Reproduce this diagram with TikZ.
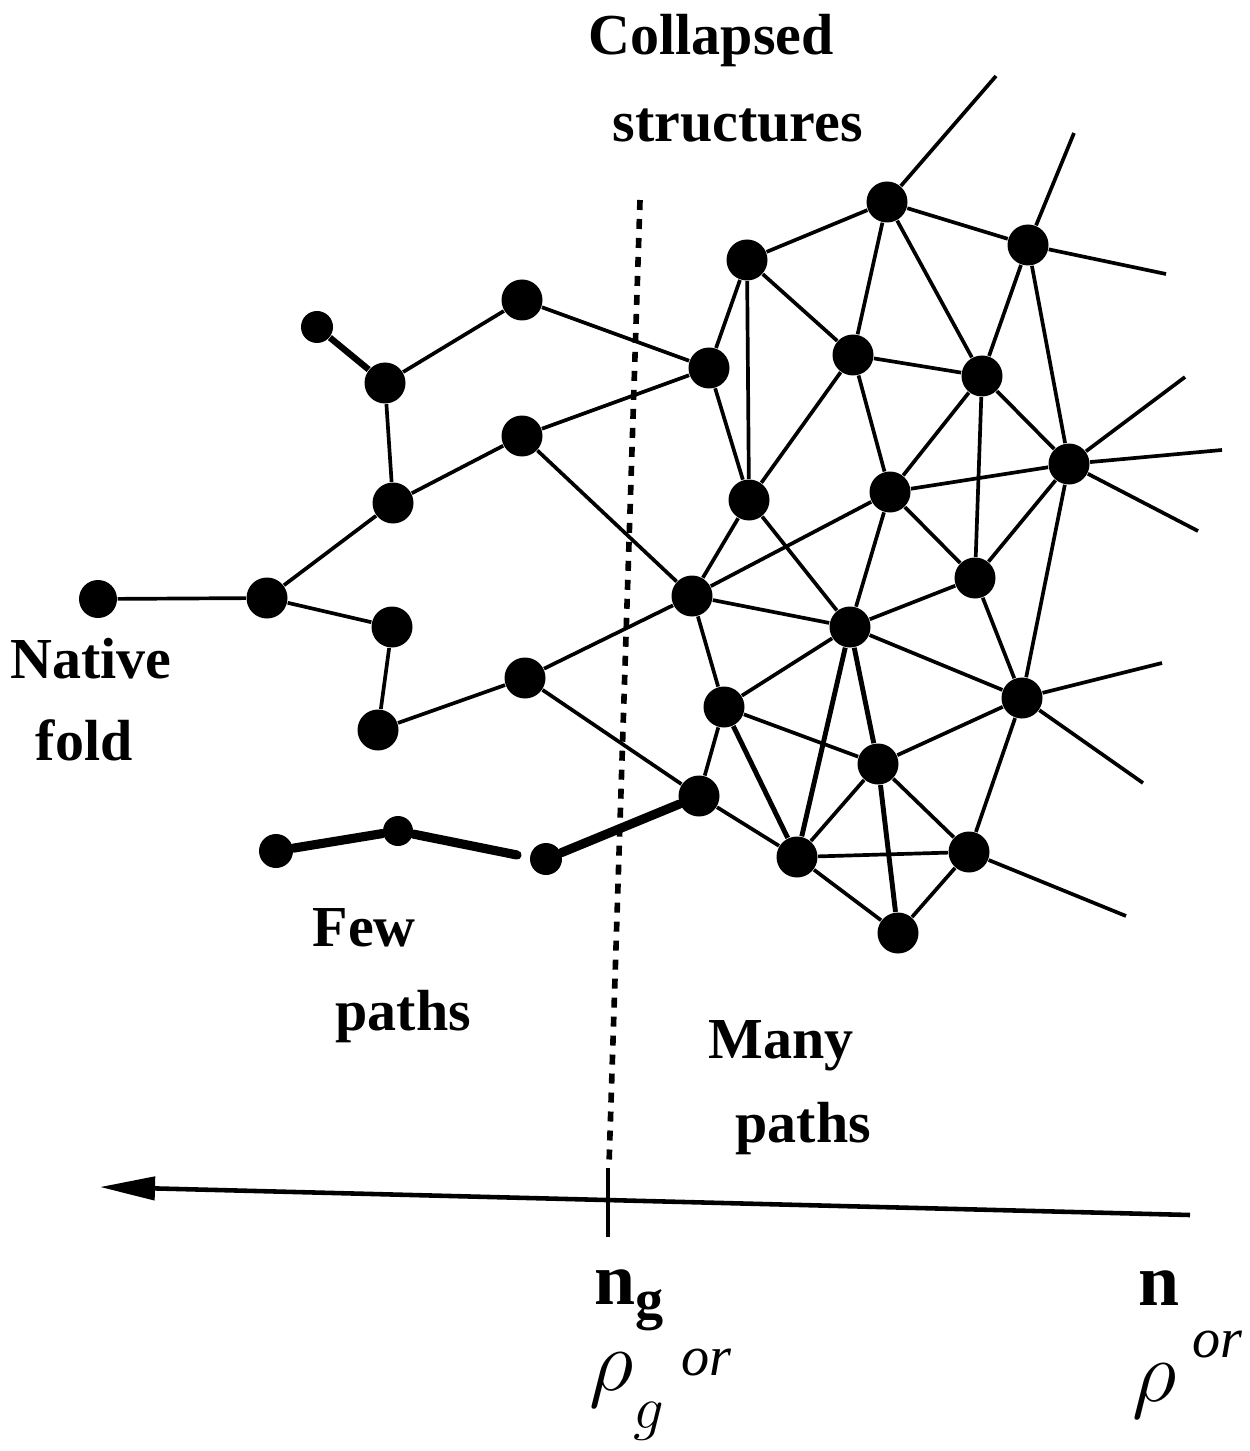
\documentclass[tikz,border=0pt]{standalone}
\usepackage{fontspec}
\setmainfont{Liberation Serif}
\usetikzlibrary{arrows.meta,positioning}

\begin{document}
\begin{tikzpicture}[
  x=0.1mm, y=-0.1mm,
  bead/.style={circle,fill=black,inner sep=0pt,minimum size=4.1mm},
  smallbead/.style={bead,minimum size=3.2mm},
  link/.style={line width=1.05pt},
  stiff/.style={line width=2.6pt,line cap=round},
  cut/.style={line width=1.6pt,dash pattern=on 1mm off 0.9mm},
  word/.style={inner sep=0pt,anchor=base west,font=\bfseries\fontsize{16.5}{20}\selectfont},
  axislabel/.style={inner sep=0pt,anchor=base west,font=\bfseries\fontsize{21}{25}\selectfont},
  hand/.style={inner sep=0pt,anchor=base west,font=\fontsize{24}{28}\selectfont},
  handsup/.style={inner sep=0pt,anchor=base west,font=\itshape\fontsize{16}{18}\selectfont}
]
  \useasboundingbox (0,0) rectangle (1250,1451);

  \node[smallbead] (tip) at (317,327) {};
  \node[bead] (a2) at (385,383) {};
  \node[bead] (a3) at (522,300) {};
  \node[bead] (a4) at (393,503) {};
  \node[bead] (a5) at (522,436) {};
  \node[bead] (a6) at (267,598) {};
  \node[bead,minimum size=3.8mm] (nat) at (98,599) {};
  \node[bead] (a8) at (392,627) {};
  \node[bead] (a9) at (378,730) {};
  \node[bead] (a10) at (525,678) {};
  \node[bead,minimum size=3.4mm] (t1) at (276,851) {};
  \node[smallbead,minimum size=3mm] (t2) at (398,831) {};
  \coordinate (t3) at (517,855);
  \node[smallbead] (t4) at (546,859) {};

  \node[bead] (b1) at (709,368) {};
  \node[bead] (r1) at (887,202) {};
  \node[bead] (r2) at (747,260) {};
  \node[bead] (r3) at (1028,245) {};
  \node[bead] (r4) at (853,355) {};
  \node[bead] (r5) at (982,376) {};
  \node[bead] (r6) at (1069,464) {};
  \node[bead] (r7) at (749,500) {};
  \node[bead] (r8) at (890,492) {};
  \node[bead] (c1) at (692,596) {};
  \node[bead] (r9) at (975,578) {};
  \node[bead] (r10) at (850,627) {};
  \node[bead] (r11) at (1022,698) {};
  \node[bead] (r12) at (724,707) {};
  \node[bead] (r13) at (878,764) {};
  \node[bead] (c2) at (699,796) {};
  \node[bead] (r14) at (797,857) {};
  \node[bead] (r15) at (969,852) {};
  \node[bead] (r16) at (898,933) {};

  \coordinate (e1) at (996,76);
  \coordinate (e2) at (1074,133);
  \coordinate (e3) at (1166,274);
  \coordinate (e4) at (1185,377);
  \coordinate (e5) at (1222,450);
  \coordinate (e6) at (1198,531);
  \coordinate (e7) at (1162,663);
  \coordinate (e8) at (1143,783);
  \coordinate (e9) at (1126,916);

  \draw[line width=1.8pt] (tip) -- (a2);
  \draw[link] (a2) -- (a3) (a3) -- (b1) (a2) -- (a4) (a4) -- (a5) (a5) -- (b1)
    (a5) -- (c1) (a4) -- (a6) (a6) -- (nat) (a6) -- (a8) (a8) -- (a9)
    (a9) -- (a10) (a10) -- (c1) (a10) -- (c2);
  \draw[stiff] (t1) -- (t2) -- (t3);
  \draw[stiff] (t4) -- (c2);

  \draw[link] (r1) -- (r2) (r1) -- (r3) (r1) -- (r4) (r1) -- (r5) (r1) -- (e1)
    (r3) -- (e2) (r3) -- (e3) (r3) -- (r5) (r3) -- (r6)
    (r2) -- (b1) (r2) -- (r7) (r2) -- (r4) (b1) -- (r7)
    (r4) -- (r5) (r4) -- (r7) (r4) -- (r8)
    (r5) -- (r8) (r5) -- (r9) (r5) -- (r6)
    (r6) -- (e4) (r6) -- (e5) (r6) -- (e6) (r6) -- (r8) (r6) -- (r9) (r6) -- (r11)
    (r7) -- (c1) (r7) -- (r10) (r8) -- (c1) (r8) -- (r10) (r8) -- (r9)
    (c1) -- (r10) (c1) -- (r12) (r9) -- (r10) (r9) -- (r11)
    (r10) -- (r12) (r10) -- (r11)
    (r11) -- (r13) (r11) -- (r15) (r11) -- (e7) (r11) -- (e8)
    (r12) -- (r13) (r12) -- (c2) (c2) -- (r14)
    (r13) -- (r14) (r13) -- (r15) (r14) -- (r15) (r14) -- (r16)
    (r15) -- (r16) (r15) -- (e9);
  \draw[line width=1.4pt] (r10) -- (r14) (r10) -- (r13) (r12) -- (r14) (r13) -- (r16);

  \coordinate (cutT) at (640,200);
  \coordinate (cutB) at (609,1165);
  \draw[cut] (cutT) -- (cutB);

  \coordinate (axR) at (1190,1215);
  \coordinate (axL) at (100,1187);
  \coordinate (tickT) at (608,1168);
  \coordinate (tickB) at (608,1237);
  \draw[line width=1.3pt,-{Triangle[length=5.5mm,width=2.3mm]}] (axR) -- (axL);
  \draw[line width=1pt] (tickT) -- (tickB);

  \node[word] (coll) at (588,55) {Collapsed};
  \node[word] (struct) at (612,142) {structures};
  \node[word] (native) at (10,678) {Native};
  \node[word] (fold) at (35,760) {fold};
  \node[word] (few) at (312,946) {Few};
  \node[word] (fewpaths) at (335,1030) {paths};
  \node[word] (many) at (708,1058) {Many};
  \node[word] (manypaths) at (735,1142) {paths};

  \node[axislabel] (ng) at (594,1304) {n\raisebox{-4pt}{\fontsize{16}{18}\selectfont g}};
  \node[axislabel] (n) at (1138,1305) {n};

  \node[hand] (rhog) at (589,1390) {$\rho$\raisebox{-11pt}{\fontsize{19}{22}\selectfont$g$}};
  \node[handsup] (org) at (681,1375) {or};
  \node[hand,font=\fontsize{32}{36}\selectfont] (rho) at (1132,1401) {$\rho$};
  \node[handsup] (orn) at (1192,1357) {or};
\end{tikzpicture}
\end{document}
